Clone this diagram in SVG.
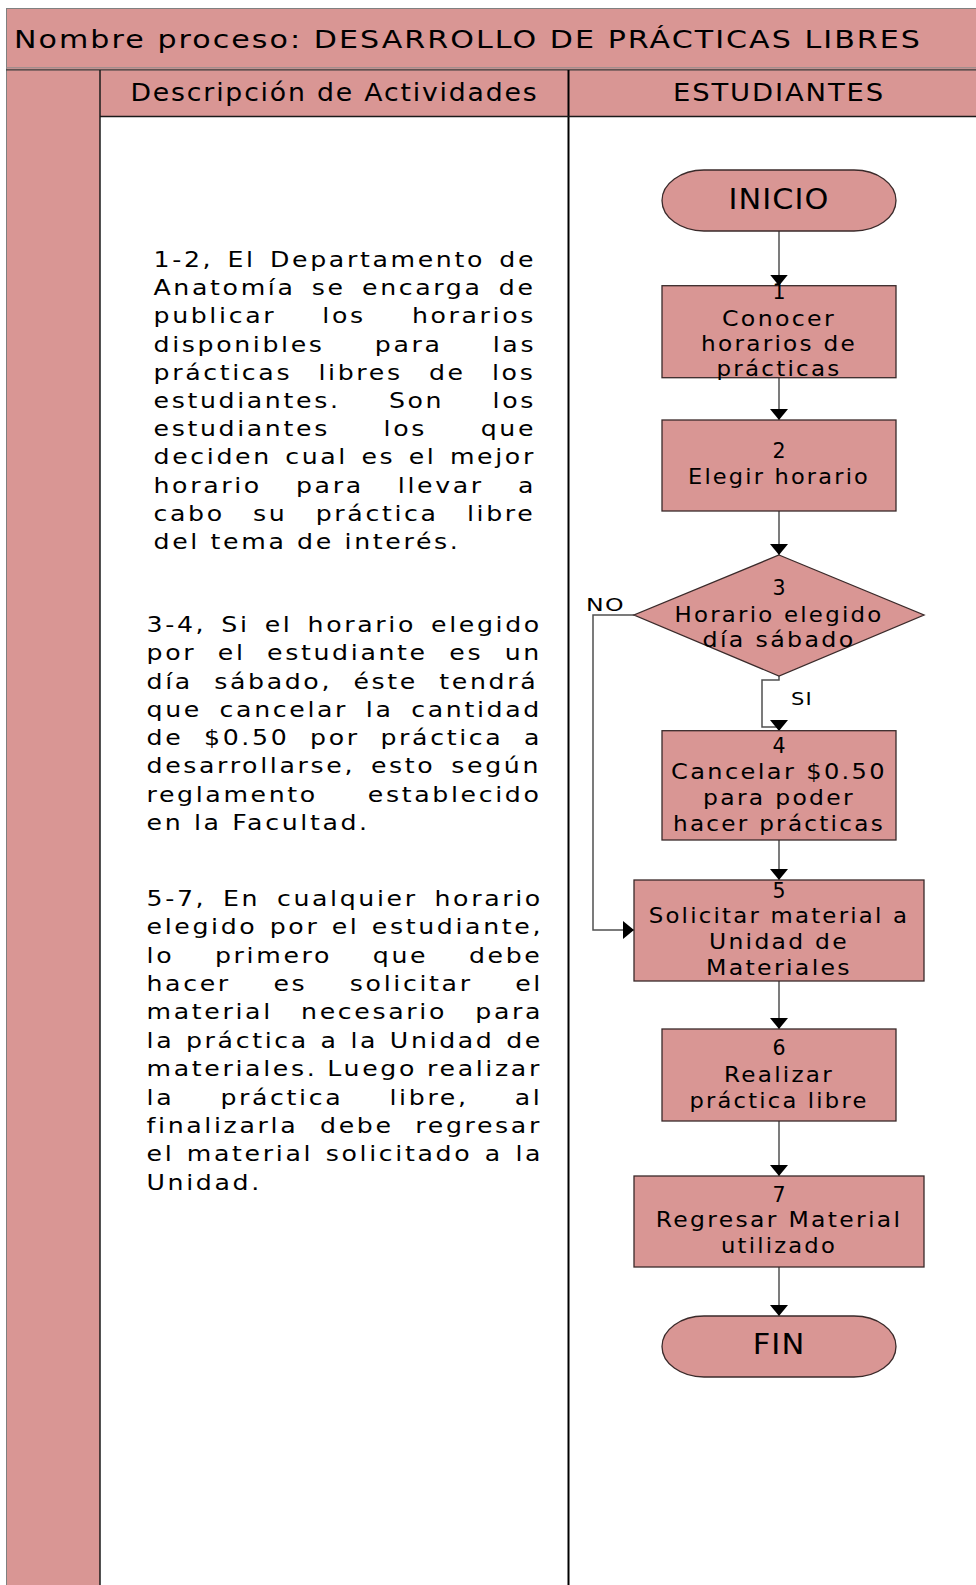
<svg xmlns="http://www.w3.org/2000/svg" width="976" height="1585" viewBox="0 0 976 1585">
  <style>
    .band { fill: #D99694; }
    .rule { stroke: #1a1a1a; stroke-width: 1.5; fill: none; }
    .thin { stroke: #808080; stroke-width: 1; fill: none; }
    .hdr { font-family: "DejaVu Sans", "Liberation Sans", sans-serif; font-size: 25px; letter-spacing: 1.7px; fill: #000; }
    .para { font-family: "DejaVu Sans", "Liberation Sans", sans-serif; font-size: 21px; letter-spacing: 2.2px; fill: #000; }
    .shape { fill: #D99694; stroke: #3a2a2a; stroke-width: 1.3; }
    .lbl { font-family: "DejaVu Sans", "Liberation Sans", sans-serif; font-size: 20.5px; letter-spacing: 2px; fill: #000; text-anchor: middle; }
    .num { font-family: "DejaVu Sans", "Liberation Sans", sans-serif; font-size: 20.5px; fill: #000; text-anchor: middle; }
    .term { font-family: "DejaVu Sans", "Liberation Sans", sans-serif; font-size: 28px; letter-spacing: 1px; fill: #000; text-anchor: middle; }
    .small { font-family: "DejaVu Sans", "Liberation Sans", sans-serif; font-size: 17px; letter-spacing: 1px; fill: #000; }
    .conn { stroke: #505050; stroke-width: 1.5; fill: none; marker-end: url(#arrow); }
  </style>
  <defs>
    <marker id="arrow" markerUnits="userSpaceOnUse" markerWidth="11" markerHeight="18" refX="11" refY="9" orient="auto" viewBox="0 0 11 18">
      <path d="M0,0 L11,9 L0,18 Z" fill="#000"/>
    </marker>
  </defs>

  <!-- page background -->
  <rect x="0" y="0" width="976" height="1585" fill="#fff"/>

  <!-- table frame: title band, header row and left margin column -->
  <g id="table">
    <rect class="band" x="6" y="8" width="970" height="108"/>
    <rect class="band" x="6" y="116" width="94" height="1469"/>
    <line class="thin" x1="6" y1="8.5" x2="976" y2="8.5"/>
    <line class="thin" x1="6.5" y1="8" x2="6.5" y2="1585"/>
    <line x1="6" y1="67.8" x2="976" y2="67.8" stroke="#8a8a8a" stroke-width="1"/>
    <line x1="6" y1="69.8" x2="976" y2="69.8" stroke="#3a3a3a" stroke-width="1.2"/>
    <line class="rule" x1="100" y1="70" x2="100" y2="1585"/>
    <line x1="568.5" y1="70" x2="568.5" y2="1585" stroke="#000" stroke-width="2"/>
    <line class="rule" x1="100" y1="116.5" x2="976" y2="116.5"/>
    <text class="hdr" x="14" y="47.5" textLength="908" lengthAdjust="spacingAndGlyphs">Nombre proceso: DESARROLLO DE PRÁCTICAS LIBRES</text>
    <text class="hdr" x="130.5" y="100.5" textLength="408" lengthAdjust="spacingAndGlyphs">Descripción de Actividades</text>
    <text class="hdr" x="673" y="100.5" textLength="212" lengthAdjust="spacingAndGlyphs">ESTUDIANTES</text>
  </g>

  <!-- activity descriptions: justified lines, widened type -->
  <g id="desc-1-2" transform="translate(153.5,0) scale(1.2,1)">
    <text class="para" x="0" y="267" word-spacing="3.05">1-2, El Departamento de</text>
    <text class="para" x="0" y="295.2" word-spacing="4.7">Anatomía se encarga de</text>
    <text class="para" x="0" y="323.4" word-spacing="29.55">publicar los horarios</text>
    <text class="para" x="0" y="351.6" word-spacing="32.9">disponibles para las</text>
    <text class="para" x="0" y="379.8" word-spacing="13">prácticas libres de los</text>
    <text class="para" x="0" y="408" word-spacing="31.45">estudiantes. Son los</text>
    <text class="para" x="0" y="436.2" word-spacing="35.85">estudiantes los que</text>
    <text class="para" x="0" y="464.4" word-spacing="2.3">deciden cual es el mejor</text>
    <text class="para" x="0" y="492.6" word-spacing="19.5">horario para llevar a</text>
    <text class="para" x="0" y="520.8" word-spacing="14.7">cabo su práctica libre</text>
    <text class="para" x="0" y="549">del tema de interés.</text>
  </g>
  <g id="desc-3-4" transform="translate(146.5,0) scale(1.2,1)">
    <text class="para" x="0" y="632" word-spacing="3.7">3-4, Si el horario elegido</text>
    <text class="para" x="0" y="660.3" word-spacing="9.1">por el estudiante es un</text>
    <text class="para" x="0" y="688.6" word-spacing="8.9">día sábado, éste tendrá</text>
    <text class="para" x="0" y="716.9" word-spacing="5.9">que cancelar la cantidad</text>
    <text class="para" x="0" y="745.2" word-spacing="8.4">de $0.50 por práctica a</text>
    <text class="para" x="0" y="773.5" word-spacing="4.35">desarrollarse, esto según</text>
    <text class="para" x="0" y="801.8" word-spacing="32.7">reglamento establecido</text>
    <text class="para" x="0" y="830.1">en la Facultad.</text>
  </g>
  <g id="desc-5-7" transform="translate(146.5,0) scale(1.2,1)">
    <text class="para" x="0" y="906" word-spacing="5.1">5-7, En cualquier horario</text>
    <text class="para" x="0" y="934.4" word-spacing="1.4">elegido por el estudiante,</text>
    <text class="para" x="0" y="962.7" word-spacing="25.1">lo primero que debe</text>
    <text class="para" x="0" y="991.1" word-spacing="26.6">hacer es solicitar el</text>
    <text class="para" x="0" y="1019.5" word-spacing="14.7">material necesario para</text>
    <text class="para" x="0" y="1047.9" word-spacing="0.9">la práctica a la Unidad de</text>
    <text class="para" x="0" y="1076.2" word-spacing="-0.5">materiales. Luego realizar</text>
    <text class="para" x="0" y="1104.6" word-spacing="29.6">la práctica libre, al</text>
    <text class="para" x="0" y="1133" word-spacing="9.25">finalizarla debe regresar</text>
    <text class="para" x="0" y="1161.3" word-spacing="1.6">el material solicitado a la</text>
    <text class="para" x="0" y="1189.7">Unidad.</text>
  </g>

  <!-- connectors -->
  <g id="connectors">
    <path class="conn" d="M779,231 V285.7"/>
    <path class="conn" d="M779,378 V420"/>
    <path class="conn" d="M779,511 V555"/>
    <path class="conn" d="M634,615 H593 V930 H634"/>
    <path class="conn" d="M779,676 V680 H762 V727 H779 V731"/>
    <path class="conn" d="M779,840 V880"/>
    <path class="conn" d="M779,981 V1029"/>
    <path class="conn" d="M779,1121 V1176"/>
    <path class="conn" d="M779,1267 V1316"/>
    <text class="small" x="586" y="611" textLength="39" lengthAdjust="spacingAndGlyphs">NO</text>
    <text class="small" x="791" y="705" textLength="22" lengthAdjust="spacingAndGlyphs">SI</text>
  </g>

  <!-- flowchart nodes -->
  <g id="inicio">
    <rect class="shape" x="662" y="170" width="234" height="61" rx="42" ry="30.5"/>
    <text class="term" x="779" y="209" textLength="101" lengthAdjust="spacingAndGlyphs">INICIO</text>
  </g>
  <g id="step1">
    <rect class="shape" x="662" y="285.7" width="234" height="92"/>
    <text class="num" x="779" y="299">1</text>
    <text class="lbl" x="779" y="325.5" textLength="114" lengthAdjust="spacingAndGlyphs">Conocer</text>
    <text class="lbl" x="779" y="350.5" textLength="156" lengthAdjust="spacingAndGlyphs">horarios de</text>
    <text class="lbl" x="779" y="376" textLength="125" lengthAdjust="spacingAndGlyphs">prácticas</text>
  </g>
  <g id="step2">
    <rect class="shape" x="662" y="420" width="234" height="91"/>
    <text class="num" x="779" y="458">2</text>
    <text class="lbl" x="779" y="484" textLength="182" lengthAdjust="spacingAndGlyphs">Elegir horario</text>
  </g>
  <g id="step3">
    <polygon class="shape" points="779,555 924,615 779,676 634,615"/>
    <text class="num" x="779" y="595">3</text>
    <text class="lbl" x="779" y="622" textLength="209" lengthAdjust="spacingAndGlyphs">Horario elegido</text>
    <text class="lbl" x="779" y="647" textLength="153" lengthAdjust="spacingAndGlyphs">día sábado</text>
  </g>
  <g id="step4">
    <rect class="shape" x="662" y="730.7" width="234" height="109.3"/>
    <text class="num" x="779" y="753">4</text>
    <text class="lbl" x="779" y="779" textLength="216" lengthAdjust="spacingAndGlyphs">Cancelar $0.50</text>
    <text class="lbl" x="779" y="805" textLength="152" lengthAdjust="spacingAndGlyphs">para poder</text>
    <text class="lbl" x="779" y="831" textLength="212" lengthAdjust="spacingAndGlyphs">hacer prácticas</text>
  </g>
  <g id="step5">
    <rect class="shape" x="634" y="880" width="290" height="101"/>
    <text class="num" x="779" y="897.7">5</text>
    <text class="lbl" x="779" y="923" textLength="260.6" lengthAdjust="spacingAndGlyphs">Solicitar material a</text>
    <text class="lbl" x="779" y="949" textLength="140" lengthAdjust="spacingAndGlyphs">Unidad de</text>
    <text class="lbl" x="779" y="975" textLength="146" lengthAdjust="spacingAndGlyphs">Materiales</text>
  </g>
  <g id="step6">
    <rect class="shape" x="662" y="1029" width="234" height="92"/>
    <text class="num" x="779" y="1055">6</text>
    <text class="lbl" x="779" y="1081.7" textLength="110" lengthAdjust="spacingAndGlyphs">Realizar</text>
    <text class="lbl" x="779" y="1107.7" textLength="179" lengthAdjust="spacingAndGlyphs">práctica libre</text>
  </g>
  <g id="step7">
    <rect class="shape" x="634" y="1176" width="290" height="91"/>
    <text class="num" x="779" y="1201.7">7</text>
    <text class="lbl" x="779" y="1227" textLength="246.6" lengthAdjust="spacingAndGlyphs">Regresar Material</text>
    <text class="lbl" x="779" y="1253" textLength="116" lengthAdjust="spacingAndGlyphs">utilizado</text>
  </g>
  <g id="fin">
    <rect class="shape" x="662" y="1316" width="234" height="61" rx="42" ry="30.5"/>
    <text class="term" x="779" y="1354" textLength="52.6" lengthAdjust="spacingAndGlyphs">FIN</text>
  </g>
</svg>
